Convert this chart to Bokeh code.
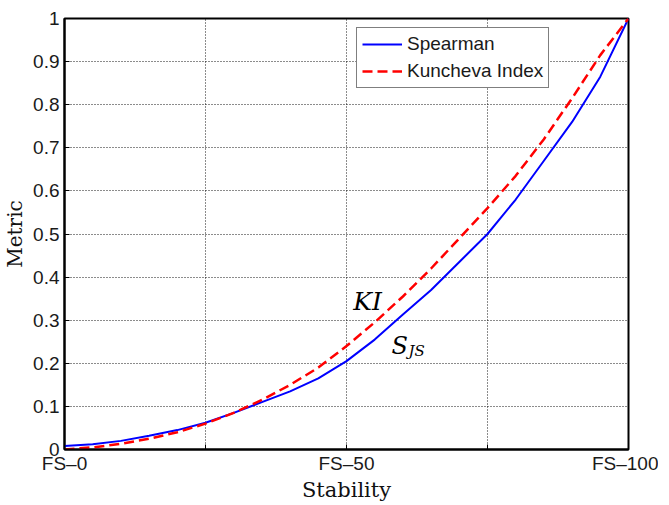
from bokeh.plotting import figure
from bokeh.models import Range1d, FixedTicker, Legend, LegendItem, Label
from bokeh.embed import file_html
from bokeh.resources import INLINE

# ---- data ----
stability = [0, 5, 10, 15, 20, 25, 30, 35, 40, 45, 50, 55, 60, 65, 70, 75, 80, 85, 90, 95, 100]
spearman = [0.008, 0.012, 0.020, 0.032, 0.045, 0.062, 0.085, 0.110, 0.135, 0.165, 0.205,
            0.255, 0.313, 0.370, 0.435, 0.500, 0.580, 0.670, 0.760, 0.865, 1.000]
kuncheva = [0.000, 0.005, 0.013, 0.025, 0.040, 0.060, 0.085, 0.115, 0.150, 0.190, 0.240,
            0.295, 0.355, 0.420, 0.490, 0.560, 0.635, 0.720, 0.815, 0.915, 1.000]
series_names = ["Spearman", "Kuncheva Index"]

x_ticks = [0, 25, 50, 75, 100]
x_tick_labels = ["FS\u20130", "", "FS\u201350", "", "FS\u2013100"]
y_ticks = [0, 0.1, 0.2, 0.3, 0.4, 0.5, 0.6, 0.7, 0.8, 0.9, 1]
y_tick_labels = ["0", "0.1", "0.2", "0.3", "0.4", "0.5", "0.6", "0.7", "0.8", "0.9", "1"]

# annotation texts and anchor positions (data units)
ann_texts = ["KI", "S", "JS"]
ann_x = [51.2, 58.0, 61.0]
ann_y = [0.344, 0.240, 0.228]

TICK_FONT = "Liberation Sans"
SERIF = "DejaVu Serif"

p = figure(frame_width=564, frame_height=431,
           x_range=Range1d(0, 100), y_range=Range1d(0, 1),
           output_backend="svg", toolbar_location=None,
           min_border_left=61, min_border_top=18, min_border_right=30,
           min_border_bottom=48)

p.background_fill_color = "white"
p.border_fill_color = "white"
p.outline_line_color = "black"
p.outline_line_width = 2

r1 = p.line(stability, spearman, line_color="#0000ff", line_width=2)
r2 = p.line(stability, kuncheva, line_color="#ff0000", line_width=2.5, line_dash="10 5")

# axes
p.xaxis.ticker = FixedTicker(ticks=x_ticks)
p.xaxis.major_label_overrides = {t: l for t, l in zip(x_ticks, x_tick_labels)}
p.yaxis.ticker = FixedTicker(ticks=y_ticks)
p.yaxis.major_label_overrides = {t: l for t, l in zip(y_ticks, y_tick_labels)}

for ax in (p.xaxis, p.yaxis):
    ax.axis_line_color = "black"
    ax.axis_line_width = 2
    ax.major_tick_in = 5
    ax.major_tick_out = 0
    ax.minor_tick_in = 0
    ax.minor_tick_out = 0
    ax.major_tick_line_color = "black"
    ax.major_label_text_font = TICK_FONT
    ax.major_label_text_font_size = "19px"
    ax.major_label_text_color = "#1a1a1a"
    ax.axis_label_text_font = SERIF
    ax.axis_label_text_font_style = "normal"
    ax.axis_label_text_color = "#111111"

p.xaxis.axis_label = "Stability"
p.xaxis.axis_label_text_font_size = "21px"
p.xaxis.major_label_standoff = 3
p.xaxis.axis_label_standoff = 1
p.yaxis.axis_label = "Metric"
p.yaxis.axis_label_text_font_size = "20px"
p.yaxis.major_label_standoff = 5
p.yaxis.axis_label_standoff = 3

# grid
for g in (p.xgrid, p.ygrid):
    g.grid_line_color = "black"
    g.grid_line_alpha = 0.9
    g.grid_line_dash = "1 2"
    g.grid_line_width = 1
p.xgrid.ticker = FixedTicker(ticks=x_ticks)
p.ygrid.ticker = FixedTicker(ticks=y_ticks)

# legend
legend = Legend(items=[LegendItem(label=series_names[0], renderers=[r1]),
                       LegendItem(label=series_names[1], renderers=[r2])],
                location=(292, 361), margin=0, padding=5, spacing=5,
                glyph_width=40, glyph_height=20, label_standoff=5,
                label_text_font=TICK_FONT, label_text_font_size="19px",
                label_text_color="#1a1a1a",
                border_line_color="black", border_line_width=1.5,
                background_fill_color="white", background_fill_alpha=1)
p.add_layout(legend, "center")

# annotations
sizes = ["25px", "24px", "15px"]
for t, x, y, s in zip(ann_texts, ann_x, ann_y, sizes):
    p.add_layout(Label(x=x, y=y, text=t, text_font=SERIF, text_font_style="italic",
                       text_font_size=s, text_color="black",
                       text_align="left", text_baseline="alphabetic"))

open("out.html", "w").write(file_html(p, INLINE))
